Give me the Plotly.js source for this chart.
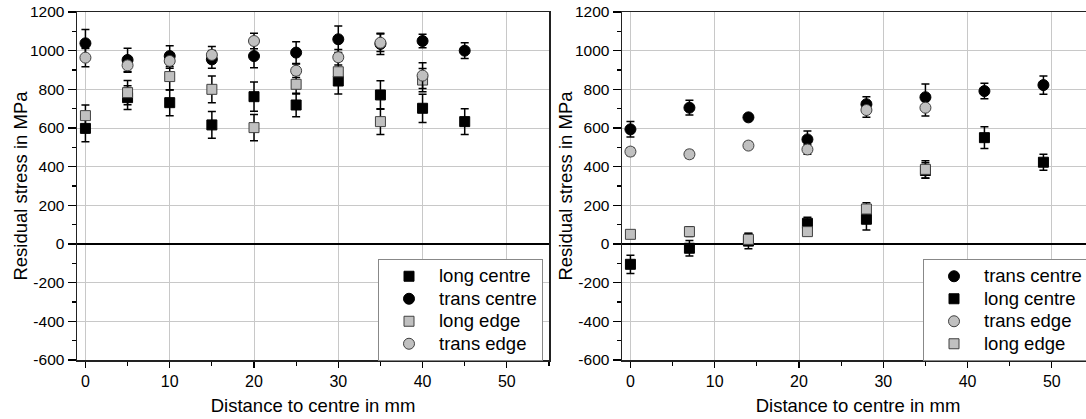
<!DOCTYPE html>
<html>
<head>
<meta charset="utf-8">
<script src="https://cdn.plot.ly/plotly-3.0.1.min.js"></script>
<style>
html, body { margin: 0; padding: 0; overflow: hidden; background: #fff; }
#chart { width: 1100px; height: 419px; }
</style>
</head>
<body>
<div id="chart"></div>
<script>
// ---- Left panel data ----
const xLeft = [0, 5, 10, 15, 20, 25, 30, 35, 40, 45];
const xLeftEdge = [0, 5, 10, 15, 20, 25, 30, 35, 40];
const leftLongCentre = [598, 757, 731, 616, 762, 719, 843, 771, 702, 633];
const leftLongCentreErr = [69, 61, 67, 69, 76, 61, 67, 74, 73, 67];
const leftTransCentre = [1038, 952, 972, 955, 972, 990, 1059, 1035, 1050, 1000];
const leftTransCentreErr = [72, 60, 54, 46, 60, 56, 69, 55, 35, 41];
const leftLongEdge = [664, 783, 866, 800, 602, 826, 891, 633, 848];
const leftLongEdgeErr = [55, 63, 69, 69, 68, 50, 55, 66, 60];
const leftTransEdge = [964, 924, 947, 978, 1050, 896, 966, 1041, 871];
const leftTransEdgeErr = [47, 35, 38, 43, 40, 35, 40, 45, 67];

// ---- Right panel data ----
const xRight = [0, 7, 14, 21, 28, 35, 42, 49];
const xRightEdge = [0, 7, 14, 21, 28, 35];
const rightTransCentre = [593, 705, 655, 541, 723, 759, 791, 822];
const rightTransCentreErr = [40, 38, 10, 43, 39, 69, 40, 47];
const rightLongCentre = [-105, -22, 15, 107, 128, 380, 550, 423];
const rightLongCentreErr = [47, 40, 40, 31, 56, 40, 56, 41];
const rightTransEdge = [478, 464, 509, 489, 693, 705];
const rightTransEdgeErr = [20, 20, 18, 25, 38, 43];
const rightLongEdge = [50, 64, 24, 64, 181, 386];
const rightLongEdgeErr = [15, 25, 30, 20, 33, 44];

// ---- Ticks & labels ----
const yTickVals = [-600, -400, -200, 0, 200, 400, 600, 800, 1000, 1200];
const yTickText = ['-600', '-400', '-200', '0', '200', '400', '600', '800', '1000', '1200'];
const xTickVals = [0, 10, 20, 30, 40, 50];
const xTickText = ['0', '10', '20', '30', '40', '50'];
const xTitle = 'Distance to centre in mm';
const yTitle = 'Residual stress in MPa';

const FONT = 'Liberation Sans, Arial, sans-serif';
const GRAY = '#c0c0c0';

function legendName(s) {
  return '<span style="font-size:18.5px">' + s + '</span>';
}

function tr(name, x, y, err, symbol, fill, line, xa, ya, legend) {
  return {
    type: 'scatter', mode: 'markers', name: legendName(name), x: x, y: y,
    xaxis: xa, yaxis: ya, legend: legend,
    marker: { symbol: symbol, size: symbol === 'circle' ? 11 : 10, color: fill,
              line: { color: line, width: 1 } },
    error_y: { type: 'data', array: err, visible: true, color: '#000', thickness: 1.5, width: 4 }
  };
}

const data = [
  tr('long centre', xLeft, leftLongCentre, leftLongCentreErr, 'square', '#000', '#000', 'x', 'y', 'legend'),
  tr('trans centre', xLeft, leftTransCentre, leftTransCentreErr, 'circle', '#000', '#000', 'x', 'y', 'legend'),
  tr('long edge', xLeftEdge, leftLongEdge, leftLongEdgeErr, 'square', GRAY, '#404040', 'x', 'y', 'legend'),
  tr('trans edge', xLeftEdge, leftTransEdge, leftTransEdgeErr, 'circle', GRAY, '#404040', 'x', 'y', 'legend'),
  tr('trans centre', xRight, rightTransCentre, rightTransCentreErr, 'circle', '#000', '#000', 'x2', 'y2', 'legend2'),
  tr('long centre', xRight, rightLongCentre, rightLongCentreErr, 'square', '#000', '#000', 'x2', 'y2', 'legend2'),
  tr('trans edge', xRightEdge, rightTransEdge, rightTransEdgeErr, 'circle', GRAY, '#404040', 'x2', 'y2', 'legend2'),
  tr('long edge', xRightEdge, rightLongEdge, rightLongEdgeErr, 'square', GRAY, '#404040', 'x2', 'y2', 'legend2')
];

const W = 1100;
function xaxisDef(d0, d1, anchor) {
  return {
    domain: [d0 / W, d1 / W], anchor: anchor, range: [-1, 55],
    tickmode: 'array', tickvals: xTickVals, ticktext: xTickText,
    ticks: 'outside', ticklen: 6, tickwidth: 1.2, tickcolor: '#000',
    minor: { dtick: 5, tick0: 0, ticks: 'outside', ticklen: 4, tickwidth: 1.2, tickcolor: '#000', showgrid: false },
    showgrid: true, gridcolor: '#c8c8c8', gridwidth: 1,
    zeroline: false,
    showline: true, linecolor: '#222', linewidth: 1.5, mirror: true,
    tickfont: { family: FONT, size: 16, color: '#000' },
    title: { text: xTitle, font: { family: FONT, size: 18.5, color: '#000' }, standoff: 10 }
  };
}
function yaxisDef(anchor) {
  return {
    domain: [0, 1], anchor: anchor, range: [-600, 1200],
    tickmode: 'array', tickvals: yTickVals, ticktext: yTickText,
    ticks: 'outside', ticklen: 8, tickwidth: 1.2, tickcolor: '#000',
    minor: { dtick: 100, tick0: 0, ticks: 'outside', ticklen: 4, tickwidth: 1.2, tickcolor: '#000', showgrid: false },
    showgrid: true, gridcolor: '#c8c8c8', gridwidth: 1,
    zeroline: true, zerolinecolor: '#000', zerolinewidth: 1.5,
    showline: true, linecolor: '#222', linewidth: 1.5, mirror: true,
    tickfont: { family: FONT, size: 15.5, color: '#000' },
    title: { text: yTitle, font: { family: FONT, size: 18.5, color: '#000' } }
  };
}

const legendStyle = {
  bgcolor: '#fff', bordercolor: '#888', borderwidth: 1,
  font: { family: FONT, size: 15, color: '#000' },
  xanchor: 'left', yanchor: 'top', itemwidth: 50,
  tracegroupgap: 0
};

const layout = {
  width: W, height: 419,
  margin: { l: 0, r: 0, t: 12, b: 59 },
  paper_bgcolor: '#fff', plot_bgcolor: '#fff',
  showlegend: true,
  xaxis: xaxisDef(77, 549, 'y'),
  yaxis: yaxisDef('x'),
  xaxis2: xaxisDef(622, 1094, 'y2'),
  yaxis2: yaxisDef('x2'),
  legend: Object.assign({}, legendStyle, { x: 378 / W, y: (360 - 259) / 348 }),
  legend2: Object.assign({}, legendStyle, { x: 923 / W, y: (360 - 259) / 348 })
};

Plotly.newPlot('chart', data, layout, { displayModeBar: false, staticPlot: true });
</script>
</body>
</html>
